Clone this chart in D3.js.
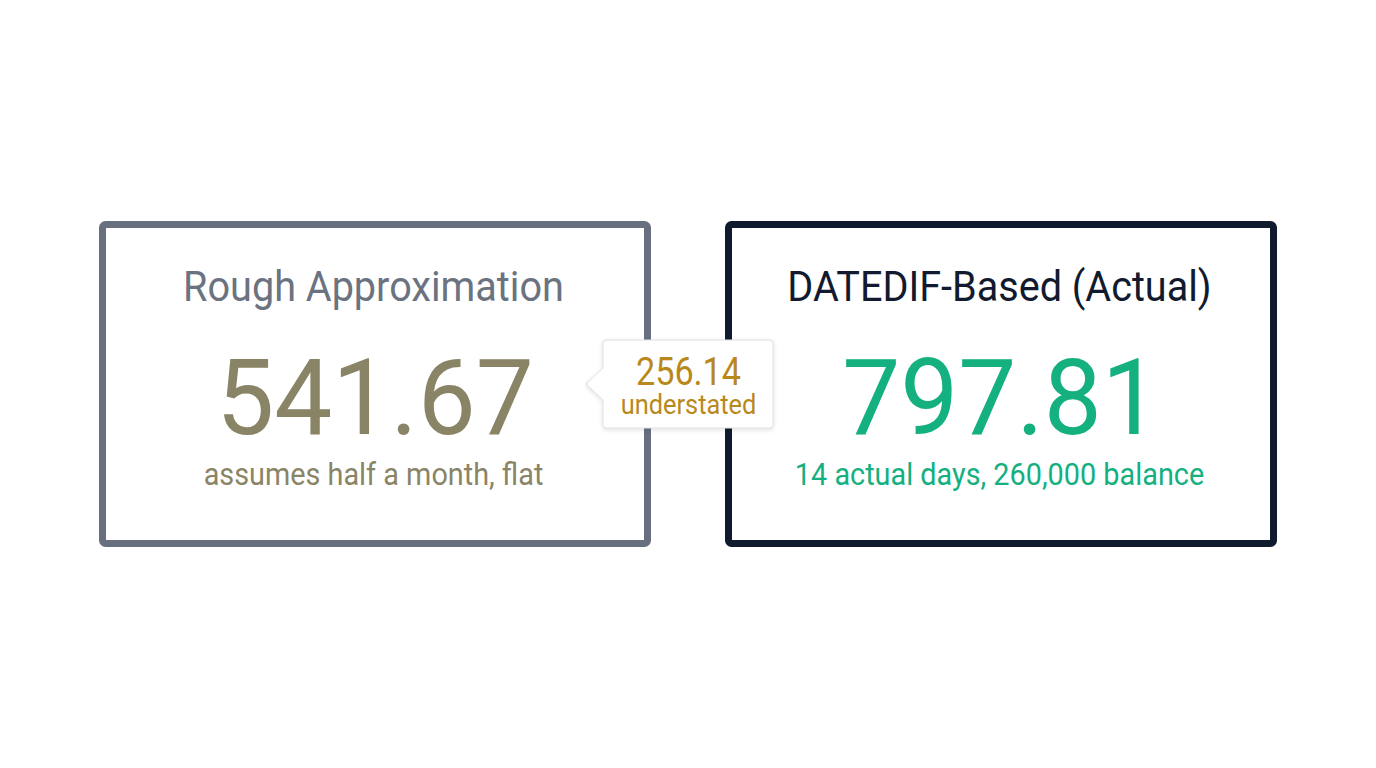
<!DOCTYPE html>
<html>
<head>
<meta charset="utf-8">
<script src="https://cdn.jsdelivr.net/npm/d3@7"></script>
<style>
  html, body { margin: 0; padding: 0; background: #ffffff; }
  svg { display: block; }
  text { font-family: Roboto, "Noto Sans", sans-serif; }
</style>
</head>
<body>
<svg id="chart" width="1376" height="768"></svg>
<script>
// ---- data ----
const cards = ["Rough Approximation", "DATEDIF-Based (Actual)"];
const values = [541.67, 797.81];
const notes = ["assumes half a month, flat", "14 actual days, 260,000 balance"];
const gapValue = 256.14;
const gapLabel = "understated";

// ---- styles ----
const borderColors = ["#687080", "#0f1a2e"];
const titleColors = ["#6b7280", "#111a2e"];
const valueColors = ["#8a8466", "#14b07f"];
const gold = "#b8891a";

const svg = d3.select("#chart");

const x = d3.scaleBand().domain(cards).range([99, 1277]).paddingInner(74 / 626).paddingOuter(0);
const y = d3.scaleLinear().domain([0, 1]).range([221, 547]);
const sw = 7;

const defs = svg.append("defs");
const f = defs.append("filter").attr("id", "shadow").attr("x", "-20%").attr("y", "-20%").attr("width", "140%").attr("height", "150%");
f.append("feDropShadow").attr("dx", 0).attr("dy", 1.5).attr("stdDeviation", 2).attr("flood-color", "#000").attr("flood-opacity", 0.12);

const fmt = d3.format(".2f");

const g = svg.selectAll("g.card").data(cards).join("g").attr("class", "card")
  .attr("transform", d => `translate(${x(d)},0)`);

g.append("rect")
  .attr("x", sw / 2).attr("y", y(0) + sw / 2)
  .attr("width", x.bandwidth() - sw).attr("height", y(1) - y(0) - sw)
  .attr("rx", 3).attr("fill", "#fff")
  .attr("stroke", (d, i) => borderColors[i]).attr("stroke-width", sw);

const cx = x.bandwidth() / 2;

// helper: horizontally condensed centred text
function label(sel, dx, baseline, size, sx, color, txt) {
  sel.append("g")
    .attr("transform", `translate(${cx + dx},${baseline}) scale(${sx},1)`)
    .append("text")
    .attr("x", 0).attr("y", 0)
    .attr("text-anchor", "middle")
    .attr("font-size", size)
    .attr("fill", color)
    .text(txt);
}

g.each(function (d, i) {
  const s = d3.select(this);
  label(s, -1.5, 301, 42, 0.943, titleColors[i], d);
  label(s, 0, 434, 106, 0.975, valueColors[i], fmt(values[i]));
  label(s, -1.5, 485, 31, 0.93, valueColors[i], notes[i]);
});

// ---- callout ----
const bx0 = 603, bx1 = 773, by0 = 340, by1 = 428, tipX = 586, tipY = 384, half = 16, r = 3;
const p = d3.path();
p.moveTo(bx0 + r, by0);
p.lineTo(bx1 - r, by0);
p.arcTo(bx1, by0, bx1, by0 + r, r);
p.lineTo(bx1, by1 - r);
p.arcTo(bx1, by1, bx1 - r, by1, r);
p.lineTo(bx0 + r, by1);
p.arcTo(bx0, by1, bx0, by1 - r, r);
p.lineTo(bx0, tipY + half);
p.lineTo(tipX, tipY);
p.lineTo(bx0, tipY - half);
p.lineTo(bx0, by0 + r);
p.arcTo(bx0, by0, bx0 + r, by0, r);
p.closePath();

const co = svg.append("g");
co.append("path").attr("d", p.toString()).attr("fill", "#fff")
  .attr("stroke", "#dedede").attr("stroke-width", 1).attr("filter", "url(#shadow)");
const ccx = (bx0 + bx1) / 2 + 0.5;
co.append("g").attr("transform", `translate(${ccx},384.5) scale(0.9,1)`)
  .append("text").attr("text-anchor", "middle")
  .attr("font-size", 38).attr("fill", gold).text(fmt(gapValue));
co.append("g").attr("transform", `translate(${ccx},413.5) scale(0.94,1)`)
  .append("text").attr("text-anchor", "middle")
  .attr("font-size", 27).attr("fill", gold).text(gapLabel);
</script>
</body>
</html>
